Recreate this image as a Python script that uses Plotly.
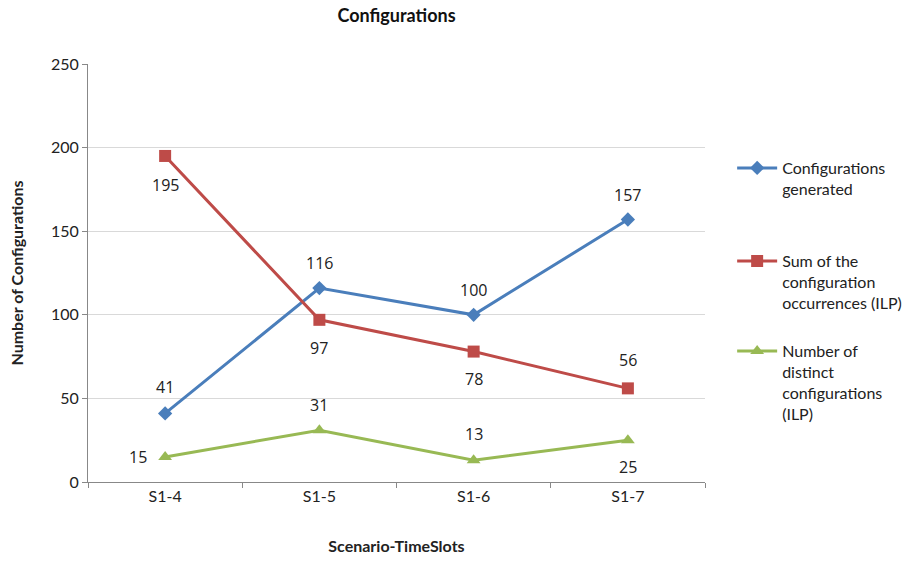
import plotly.graph_objects as go

categories = ["S1-4", "S1-5", "S1-6", "S1-7"]
generated = [41, 116, 100, 157]
sum_occ = [195, 97, 78, 56]
distinct = [15, 31, 13, 25]

# label placement: (xshift, yshift) in pixels
gen_pos = [(0, 26), (0, 25), (0, 25), (0, 25)]
sum_pos = [(0, -29), (0, -28), (0, -27), (0, 28)]
dis_pos = [(-27, 0), (0, 25), (0, 26), (0, -27)]

FONT = "Lato, Open Sans, sans-serif"
fig = go.Figure()
fig.add_trace(go.Scatter(
    x=categories, y=generated, mode="lines+markers",
    name="Configurations<br>generated",
    line=dict(color="#4a7ebb", width=3),
    marker=dict(symbol="diamond", size=11, color="#4a7ebb"),
    legend="legend"))
fig.add_trace(go.Scatter(
    x=categories, y=sum_occ, mode="lines+markers",
    name="Sum of the<br>configuration<br>occurrences (ILP)",
    line=dict(color="#be4b48", width=3),
    marker=dict(symbol="square", size=12, color="#be4b48"),
    legend="legend2"))
fig.add_trace(go.Scatter(
    x=categories, y=distinct, mode="lines+markers",
    name="Number of<br>distinct<br>configurations<br>(ILP)",
    line=dict(color="#98b954", width=3),
    marker=dict(symbol="triangle-up", size=12, color="#98b954"),
    legend="legend3"))

for vals, pos in [(generated, gen_pos), (sum_occ, sum_pos), (distinct, dis_pos)]:
    for c, v, (dx, dy) in zip(categories, vals, pos):
        fig.add_annotation(x=c, y=v, xref="x", yref="y", text=str(v), showarrow=False,
                           xshift=dx, yshift=dy, font=dict(size=16, color="#222", family="Open Sans, sans-serif"))

leg = dict(font=dict(size=16, family=FONT, color="#222"), bgcolor="rgba(0,0,0,0)",
           xanchor="left", yanchor="top", valign="top", itemwidth=40)
fig.update_layout(
    width=911, height=561,
    margin=dict(l=88, r=206, t=64, b=79, autoexpand=False),
    paper_bgcolor="white", plot_bgcolor="white",
    font=dict(family=FONT, size=16, color="#222"),
    title=dict(text="<b>Configurations</b>", x=0.5, xref="paper", y=0.972, yanchor="middle",
               font=dict(size=18, family=FONT, color="#111")),
    showlegend=True,
    legend=dict(x=1.044, y=(482 - 151) / 418, **leg),
    legend2=dict(x=1.044, y=(482 - 244) / 418, **leg),
    legend3=dict(x=1.044, y=(482 - 334) / 418, **leg),
    xaxis=dict(type="category", range=[-0.5, 3.5], showgrid=False,
               showline=True, linecolor="#888", ticks="outside", tickson="boundaries",
               ticklen=5, tickcolor="#888", tickfont=dict(size=16),
               title=dict(text="<b>Scenario-TimeSlots</b>", font=dict(size=16), standoff=36)),
    yaxis=dict(range=[0, 250], dtick=50, showgrid=True, gridcolor="#d9d9d9",
               showline=True, linecolor="#888", ticks="outside", ticklen=5, tickcolor="#888",
               tickfont=dict(size=16), zeroline=False,
               title=dict(text="<b>Number of Configurations</b>", font=dict(size=16), standoff=23)),
)
fig.write_html("out.html")
